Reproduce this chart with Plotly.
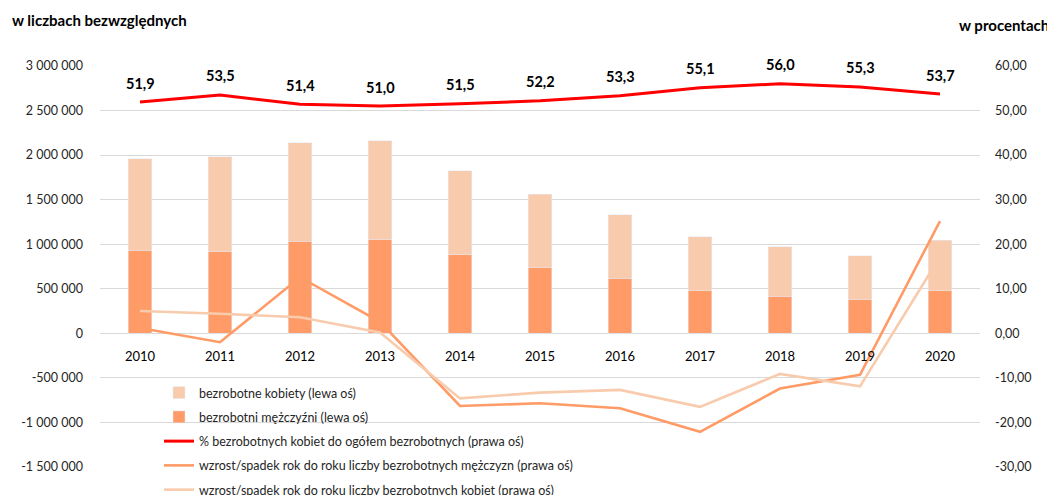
import plotly.graph_objects as go

years = ["2010", "2011", "2012", "2013", "2014", "2015", "2016", "2017", "2018", "2019", "2020"]
men = [935000, 918000, 1032000, 1053000, 883000, 740000, 620000, 478000, 418000, 382000, 476000]
total = [1957000, 1982000, 2138000, 2160000, 1822000, 1563000, 1331000, 1082000, 970000, 868000, 1047000]
women = [t - m for t, m in zip(total, men)]
women_share = [51.9, 53.5, 51.4, 51.0, 51.5, 52.2, 53.3, 55.1, 56.0, 55.3, 53.7]
men_yoy = [1.2, -2.0, 12.6, 2.6, -16.3, -15.7, -16.8, -22.1, -12.4, -9.3, 25.2]
women_yoy = [5.0, 4.4, 3.6, 0.2, -14.6, -13.3, -12.7, -16.5, -9.1, -11.9, 17.2]

left_ticks = [-1500000, -1000000, -500000, 0, 500000, 1000000, 1500000, 2000000, 2500000, 3000000]
left_labels = ["-1 500 000", "-1 000 000", "-500 000", "0", "500 000", "1 000 000",
               "1 500 000", "2 000 000", "2 500 000", "3 000 000"]
right_ticks = [-30, -20, -10, 0, 10, 20, 30, 40, 50, 60]
right_labels = ["-30,00", "-20,00", "-10,00", "0,00", "10,00", "20,00", "30,00", "40,00", "50,00", "60,00"]

C_WOMEN = "#F8CBAD"
C_MEN = "#FF9B66"
C_RED = "#FF0000"
FONT = "Lato"
TXT = "#262626"

# page has an 8px body margin: figure is shifted by 8px right/down
W, H = 1047, 487
PL, PT, PW, PH = 92, 58, 880, 401

fig = go.Figure()
fig.add_trace(go.Bar(x=years, y=men, name="bezrobotni mężczyźni (lewa oś)", marker_color=C_MEN,
                     width=0.29, legendgroup="g2", legendrank=2, yaxis="y"))
fig.add_trace(go.Bar(x=years, y=women, name="bezrobotne kobiety (lewa oś)", marker_color=C_WOMEN,
                     width=0.29, legendgroup="g1", legendrank=1, yaxis="y"))
fig.add_trace(go.Scatter(x=years, y=women_share, mode="lines",
                         name="% bezrobotnych kobiet do ogółem bezrobotnych (prawa oś)",
                         line=dict(color=C_RED, width=3), legendgroup="g3", legendrank=3, yaxis="y2"))
fig.add_trace(go.Scatter(x=years, y=men_yoy, mode="lines",
                         name="wzrost/spadek rok do roku liczby bezrobotnych mężczyzn (prawa oś)",
                         line=dict(color=C_MEN, width=2.6), legendgroup="g4", legendrank=4, yaxis="y2"))
fig.add_trace(go.Scatter(x=years, y=women_yoy, mode="lines",
                         name="wzrost/spadek rok do roku liczby bezrobotnych kobiet (prawa oś)",
                         line=dict(color=C_WOMEN, width=2.6), legendgroup="g5", legendrank=5, yaxis="y2"))

annotations = []
for i, v in enumerate(women_share):
    annotations.append(dict(x=i, y=v, xref="x", yref="y2", text=f"{v:.1f}".replace(".", ","),
                            showarrow=False, yshift=19,
                            font=dict(family=FONT, size=14.5, color="#000000", weight="bold")))
annotations.append(dict(x=-90 / PW, y=(401 - (20 - 66)) / PH, xref="paper", yref="paper",
                        text="w liczbach bezwzględnych", showarrow=False, xanchor="left", yanchor="middle",
                        font=dict(family=FONT, size=15, color="#000000", weight="bold")))
annotations.append(dict(x=(1051 - 100) / PW, y=(401 - (25 - 66)) / PH, xref="paper", yref="paper",
                        text="w procentach", showarrow=False, xanchor="right", yanchor="middle",
                        font=dict(family=FONT, size=15, color="#000000", weight="bold")))

fig.update_layout(
    width=W, height=H,
    margin=dict(l=PL, r=W - PL - PW, t=PT, b=H - PT - PH, autoexpand=False),
    paper_bgcolor="white", plot_bgcolor="white",
    barmode="stack",
    font=dict(family=FONT, color=TXT),
    showlegend=True,
    legend=dict(x=(159 - 100) / PW, y=(467 - 378) / PH, xanchor="left", yanchor="top",
                bgcolor="rgba(0,0,0,0)", traceorder="grouped", tracegroupgap=5,
                font=dict(family=FONT, size=12.5, color=TXT)),
    xaxis=dict(type="category", range=[-0.5, 10.5], anchor="free", position=(467 - 334) / PH,
               showgrid=False, showline=False, zeroline=False, ticks="", ticklabelstandoff=13,
               tickfont=dict(family=FONT, size=13, color="#000000")),
    yaxis=dict(range=[-1500000, 3000000], tickvals=left_ticks, ticktext=left_labels,
               showgrid=True, gridcolor="#D9D9D9", gridwidth=1, zeroline=True, zerolinecolor="#D9D9D9",
               zerolinewidth=1, showline=False, ticks="", ticklabelstandoff=16,
               tickfont=dict(family=FONT, size=12.5, color=TXT)),
    yaxis2=dict(range=[-30, 60], tickvals=right_ticks, ticktext=right_labels, overlaying="y", side="right",
                showgrid=False, zeroline=False, showline=False, ticks="", ticklabelstandoff=14,
                tickfont=dict(family=FONT, size=12.5, color=TXT)),
    annotations=annotations,
)

fig.write_html("out.html")
